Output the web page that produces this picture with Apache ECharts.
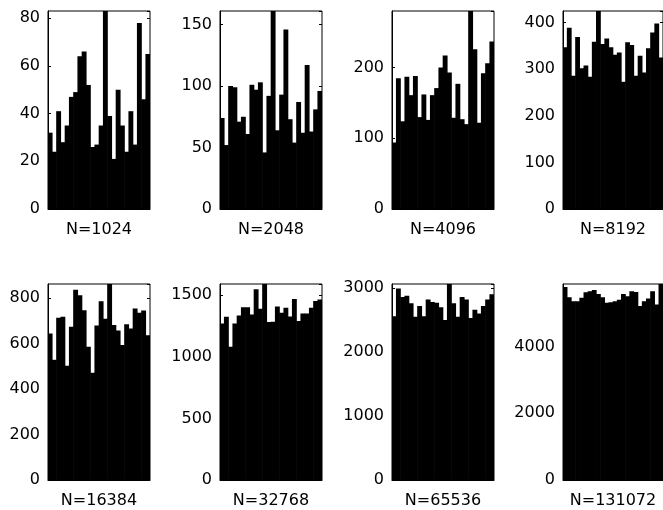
<!DOCTYPE html>
<html>
<head>
<meta charset="utf-8">
<script src="https://cdn.jsdelivr.net/npm/echarts@6/dist/echarts.min.js"></script>
<style>
  html, body { margin: 0; padding: 0; background: #fff; overflow: hidden; }
  #chart { width: 663px; height: 510px; }
</style>
</head>
<body>
<div id="chart"></div>
<script>
// bin index (24 bins per histogram)
let bins = ['1', '2', '3', '4', '5', '6', '7', '8', '9', '10', '11', '12',
  '13', '14', '15', '16', '17', '18', '19', '20', '21', '22', '23', '24'];

// panel titles
let names = ['N=1024', 'N=2048', 'N=4096', 'N=8192',
  'N=16384', 'N=32768', 'N=65536', 'N=131072'];

// counts per bin
let h1024 = [32, 24, 41, 28, 35, 47, 49, 64, 66, 52, 26, 27, 35, 83, 39, 21, 50, 35, 24, 41, 27, 78, 46, 65];
let h2048 = [74, 52, 100, 99, 71, 75, 61, 101, 97, 103, 46, 92, 161, 64, 93, 146, 73, 54, 87, 62, 117, 63, 81, 96];
let h4096 = [94, 185, 124, 187, 161, 188, 130, 162, 126, 161, 171, 200, 217, 193, 129, 177, 127, 120, 280, 226, 122, 192, 206, 237];
let h8192 = [347, 389, 286, 369, 302, 308, 284, 359, 425, 354, 366, 347, 331, 336, 273, 358, 352, 286, 329, 293, 345, 379, 398, 325];
let h16384 = [644, 528, 713, 717, 502, 673, 836, 812, 746, 585, 471, 679, 785, 708, 861, 681, 657, 593, 684, 666, 753, 735, 745, 636];
let h32768 = [1271, 1325, 1081, 1271, 1336, 1403, 1403, 1344, 1548, 1390, 1591, 1282, 1285, 1409, 1358, 1398, 1328, 1470, 1290, 1352, 1352, 1398, 1452, 1465];
let h65536 = [2560, 2990, 2860, 2880, 2760, 2550, 2720, 2560, 2820, 2780, 2770, 2700, 2500, 3062, 2760, 2550, 2860, 2820, 2530, 2660, 2600, 2720, 2820, 2900];
let h131072 = [5788, 5481, 5363, 5363, 5462, 5630, 5659, 5699, 5580, 5481, 5314, 5333, 5363, 5402, 5580, 5511, 5659, 5640, 5215, 5363, 5442, 5659, 5264, 5877];

// y tick step for each panel
let steps = [20, 50, 100, 100, 200, 500, 1000, 2000];

let hists = [h1024, h2048, h4096, h8192, h16384, h32768, h65536, h131072];

let lefts = [48, 220, 392, 563];
let tops = [11, 284];
let font = 'DejaVu Sans';

let grid = [], xAxis = [], yAxis = [], series = [];

hists.forEach((data, i) => {
  let row = Math.floor(i / 4), col = i % 4;
  let max = Math.max(...data);
  grid.push({
    left: lefts[col],
    top: tops[row],
    width: 102,
    height: 198,
    show: true,
    borderColor: '#000',
    borderWidth: 1
  });
  xAxis.push({
    type: 'category',
    gridIndex: i,
    data: bins,
    name: names[i],
    nameLocation: 'middle',
    nameGap: 13,
    nameTextStyle: { color: '#000', fontFamily: font, fontSize: 16, verticalAlign: 'top' },
    axisLine: { show: true, lineStyle: { color: '#000', width: 1 } },
    axisTick: { show: false },
    axisLabel: { show: false },
    splitLine: { show: false }
  });
  // left axis with labels
  yAxis.push({
    type: 'value',
    gridIndex: i,
    min: 0,
    max: max,
    interval: steps[i],
    axisLine: { show: true, lineStyle: { color: '#000', width: 1 } },
    axisTick: { show: true, inside: true, length: 3, lineStyle: { color: '#000' } },
    axisLabel: {
      color: '#000', fontFamily: font, fontSize: 16, margin: 8,
      showMaxLabel: false,
      formatter: v => String(v)
    },
    splitLine: { show: false }
  });
  // right axis only for the inner tick marks
  yAxis.push({
    type: 'value',
    gridIndex: i,
    position: 'right',
    min: 0,
    max: max,
    interval: steps[i],
    axisLine: { show: false },
    axisTick: { show: true, inside: true, length: 3, lineStyle: { color: '#000' } },
    axisLabel: { show: false },
    splitLine: { show: false }
  });
  // slightly wider than the band so neighbouring bars touch without seams
  series.push({
    type: 'bar',
    xAxisIndex: i,
    yAxisIndex: i * 2,
    data: data,
    barWidth: '115%',
    itemStyle: { color: '#000' },
    silent: true
  });
});

let myChart = echarts.init(document.getElementById('chart'), null, { renderer: 'canvas' });
myChart.setOption({
  backgroundColor: '#fff',
  animation: false,
  grid: grid,
  xAxis: xAxis,
  yAxis: yAxis,
  series: series
});
</script>
</body>
</html>
